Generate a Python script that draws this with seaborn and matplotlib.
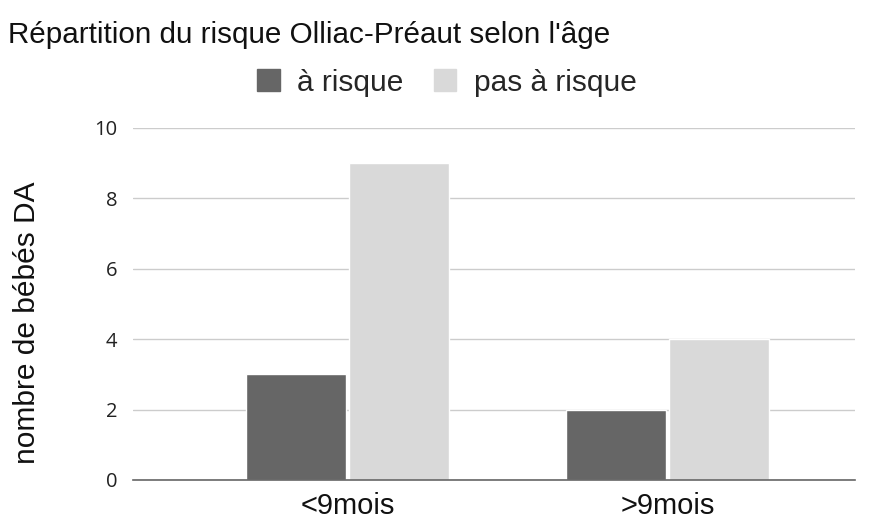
import pandas as pd
import matplotlib.pyplot as plt
import seaborn as sns

# Data
categories = ["<9mois", ">9mois"]
a_risque = [3, 2]
pas_a_risque = [9, 4]
series = ["à risque", "pas à risque"]

df = pd.DataFrame({
    "age": categories * 2,
    "groupe": [series[0]] * 2 + [series[1]] * 2,
    "n": a_risque + pas_a_risque,
})

sns.set_style("white")
plt.rcParams["font.family"] = ["Liberation Sans", "DejaVu Sans"]

fig = plt.figure(figsize=(8.73, 5.24), dpi=100)
ax = fig.add_axes([0.152, 0.084, 0.827, 0.672])

palette = {"à risque": "#666666", "pas à risque": "#d9d9d9"}
sns.barplot(data=df, x="age", y="n", hue="groupe", palette=palette,
            width=0.645, gap=0.03, saturation=1, ax=ax, legend=False, zorder=2)

ax.set_ylim(0, 10)
ax.set_xlim(-0.672, 1.585)
ax.set_yticks([0, 2, 4, 6, 8, 10])
ax.yaxis.grid(True, color="#cccccc", linewidth=1, zorder=0)
ax.set_axisbelow(True)
for s in ["top", "right", "left"]:
    ax.spines[s].set_visible(False)
ax.spines["bottom"].set_color("#666666")
ax.spines["bottom"].set_linewidth(1.2)
ax.tick_params(axis="both", length=0)
ax.tick_params(axis="y", pad=11)
for lab in ax.get_yticklabels():
    lab.set_fontfamily(["Open Sans", "DejaVu Sans"])
    lab.set_fontsize(14.5)
    lab.set_color("#222222")
for lab in ax.get_xticklabels():
    lab.set_fontsize(21)
    lab.set_color("#111111")
ax.tick_params(axis="x", pad=9)

ax.set_xlabel("")
ax.set_ylabel("nombre de bébés DA", fontsize=21.5, color="#111111")
ax.yaxis.set_label_coords(-0.127, 0.446)

fig.text(0.009, 0.933, "Répartition du risque Olliac-Préaut selon l'âge",
         fontsize=21.3, color="#111111", va="center", ha="left")

handles = [plt.Rectangle((0, 0), 1, 1, color=palette[s]) for s in series]
fig.legend(handles, series, loc="center", bbox_to_anchor=(0.512, 0.842), ncol=2,
           frameon=False, fontsize=21.5, handlelength=0.75, handleheight=0.75,
           handletextpad=0.6, columnspacing=1.0)

fig.savefig("out.png", dpi=100)
